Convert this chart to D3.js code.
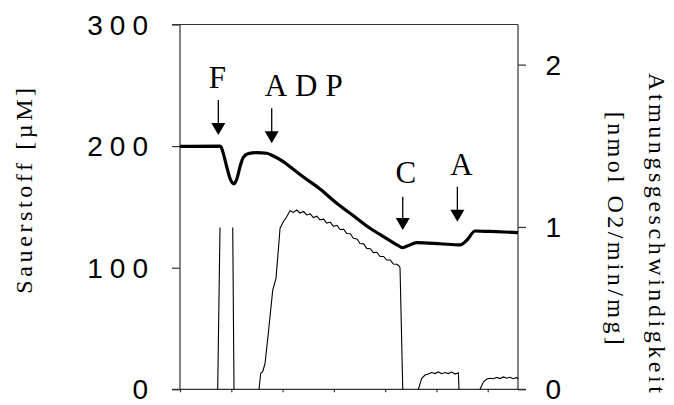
<!DOCTYPE html>
<html><head><meta charset="utf-8">
<script src="https://cdn.jsdelivr.net/npm/d3@7"></script>
<style>body{margin:0;background:#fff}svg{display:block}</style>
</head><body>
<script>
// ---- data ----
const leftTicks = [0, 100, 200, 300];
const rightTicks = [0, 1, 2];
const timeTicks = [0, 1, 2, 3, 4, 5, 6];
const leftTitle = "Sauerstoff [µM]";
const rightTitle1 = "Atmungsgeschwindigkeit";
const rightTitle2 = "[nmol O2/min/mg]";
// oxygen concentration [µM] over time (arbitrary time units)
const oxygen = [[0,199.7],[0.78,200],[0.8,199.3],[0.844,194],[0.911,183],[0.975,173.5],[1.053,169],[1.106,172.7],[1.17,183],[1.234,190.8],[1.332,193.8],[1.496,194.6],[1.69,194.1],[1.82,191.9],[2.015,187.2],[2.145,183],[2.399,174.8],[2.73,164.7],[3.056,153],[3.413,141.7],[3.705,132.4],[3.998,124.8],[4.251,118.3],[4.33,116.5],[4.43,117.8],[4.616,120.6],[5.07,119.7],[5.46,118.7],[5.597,122.8],[5.753,130.2],[6.045,129.8],[6.59,128.9]];
// respiration rate [nmol O2/min/mg]; null = break in trace
const rate = [[0.735,0],[0.78,0.997],null,[1.028,0.997],[1.053,0],null,
 [1.541,0],[1.574,0.099],[1.613,0.108],[1.658,0.16],[1.722,0.345],[1.808,0.611],[1.872,0.683],[1.917,0.858],[1.95,0.991],[2.014,1.032],[2.081,1.063],[2.145,1.1],
 [2.21,1.09],[2.275,1.104],[2.34,1.086],[2.41,1.095],[2.47,1.074],[2.54,1.08],[2.6,1.058],[2.67,1.066],[2.73,1.044],[2.8,1.048],[2.86,1.024],[2.93,1.03],[2.99,1.004],[3.06,1.01],[3.12,0.984],[3.19,0.986],[3.25,0.96],[3.32,0.958],[3.38,0.93],[3.45,0.926],[3.51,0.898],[3.58,0.896],[3.64,0.868],[3.71,0.866],[3.77,0.842],[3.84,0.844],[3.9,0.818],[3.97,0.818],[4.03,0.796],[4.1,0.796],[4.16,0.772],[4.23,0.77],[4.27,0.76],[4.29,0.748],[4.343,0],null,
 [4.647,0],[4.713,0.068],[4.778,0.088],[4.842,0.094],[4.908,0.103],[4.973,0.097],[5.037,0.107],[5.103,0.096],[5.168,0.103],[5.232,0.097],[5.298,0.106],[5.363,0.094],[5.427,0.102],[5.44,0],null,
 [5.85,0],[5.915,0.045],[5.981,0.063],[6.045,0.068],[6.11,0.065],[6.176,0.073],[6.24,0.066],[6.305,0.076],[6.371,0.068],[6.435,0.074],[6.5,0.065],[6.566,0.073],[6.59,0.063]];
// additions: label, time, arrow top and tip (in µM of left scale)
const additions = ["F", "ADP", "C", "A"];
const additionTime = [0.747, 1.788, 4.343, 5.408];
const arrowTop = [237.9, 231.1, 158.4, 166.6];
const arrowTip = [209.1, 202.3, 131.0, 137.8];

// ---- layout ----
const W = 674, H = 405;
const svg = d3.select("body").append("svg").attr("width", W).attr("height", H);
const x = d3.scaleLinear().domain([0, 6.59]).range([180, 518]);
const yL = d3.scaleLinear().domain([0, 300]).range([389.3, 24.5]);
const yR = d3.scaleLinear().domain([0, 2.247]).range([389.3, 24.5]);
const axisCol = "#333";

// frame top
svg.append("line").attr("x1", 172).attr("x2", x.range()[1]).attr("y1", yL(300)).attr("y2", yL(300))
  .attr("stroke", axisCol).attr("stroke-width", 1.2);

const gL = svg.append("g").attr("transform", "translate(180,0)")
  .call(d3.axisLeft(yL).tickValues(leftTicks).tickSize(8).tickFormat(""));
const gR = svg.append("g").attr("transform", "translate(518,0)")
  .call(d3.axisRight(yR).tickValues(rightTicks).tickSize(8).tickFormat(""));
const gB = svg.append("g").attr("transform", "translate(0,389.3)")
  .call(d3.axisBottom(x).tickValues(timeTicks).tickSize(3).tickFormat("").tickSizeOuter(0));
[gL, gR, gB].forEach(g => {
  g.selectAll("path").attr("stroke", axisCol).attr("stroke-width", 1.2);
  g.selectAll("line").attr("stroke", axisCol).attr("stroke-width", 1.2);
});
gL.select("path").attr("d", `M0,${yL(300)}V${yL(0)}`);
gR.select("path").attr("d", `M0,${yR(2.247)}V${yR(0)}`);
gB.select("path").attr("d", `M172,0H526`);

// tick labels
const sans = "'Liberation Sans', Arial, sans-serif";
svg.append("g").selectAll("text").data(leftTicks).join("text")
  .attr("x", 155).attr("y", d => yL(d)).attr("dy", "0.36em")
  .attr("text-anchor", "end").style("font-family", sans)
  .attr("font-size", 28).attr("letter-spacing", 7).text(d => d);
svg.append("g").selectAll("text").data(rightTicks).join("text")
  .attr("x", 545.5).attr("y", d => yR(d)).attr("dy", "0.36em")
  .attr("text-anchor", "start").style("font-family", sans)
  .attr("font-size", 28).attr("letter-spacing", 7).text(d => d);

// titles
const serif = "'Liberation Serif', 'Times New Roman', serif";
svg.append("text").attr("transform", "translate(31.8,189) rotate(-90)")
  .attr("text-anchor", "middle").style("font-family", serif).attr("font-size", 24)
  .attr("letter-spacing", 3.6).text(leftTitle);
svg.append("text").attr("transform", "translate(648.5,73) rotate(90)")
  .attr("text-anchor", "start").style("font-family", serif).attr("font-size", 24)
  .attr("letter-spacing", 3.55).text(rightTitle1);
svg.append("text").attr("transform", "translate(608.2,230) rotate(90)")
  .attr("text-anchor", "middle").style("font-family", serif).attr("font-size", 24)
  .attr("letter-spacing", 3.4).text(rightTitle2);

// rate trace
const rateLine = d3.line().defined(d => d !== null).x(d => x(d[0])).y(d => yR(d[1]));
svg.append("path").attr("d", rateLine(rate)).attr("fill", "none")
  .attr("stroke", "#000").attr("stroke-width", 1.1);

// oxygen trace
const o2Line = d3.line().curve(d3.curveMonotoneX).x(d => x(d[0])).y(d => yL(d[1]));
svg.append("path").attr("d", o2Line(oxygen)).attr("fill", "none")
  .attr("stroke", "#000").attr("stroke-width", 3.2).attr("stroke-linejoin", "round");

// arrows + labels
const labelDX = [-1, -7, 3, 4];
const labelGap = [12, 12, 14, 12];
additions.forEach((lab, i) => {
  const ax = x(additionTime[i]);
  const yt = yL(arrowTop[i]), yp = yL(arrowTip[i]);
  svg.append("line").attr("x1", ax).attr("x2", ax).attr("y1", yt).attr("y2", yp - 10)
    .attr("stroke", "#000").attr("stroke-width", 1.3);
  svg.append("path").attr("d", `M${ax - 7},${yp - 12}L${ax + 7},${yp - 12}L${ax},${yp}Z`).attr("fill", "#000");
  const t = svg.append("text").style("font-family", serif).attr("font-size", 31)
    .attr("y", yt - labelGap[i]).text(lab);
  if (lab === "ADP") t.attr("x", ax - 7).attr("letter-spacing", 8).attr("text-anchor", "start");
  else t.attr("x", ax + labelDX[i]).attr("text-anchor", "middle");
});
</script>
</body></html>
